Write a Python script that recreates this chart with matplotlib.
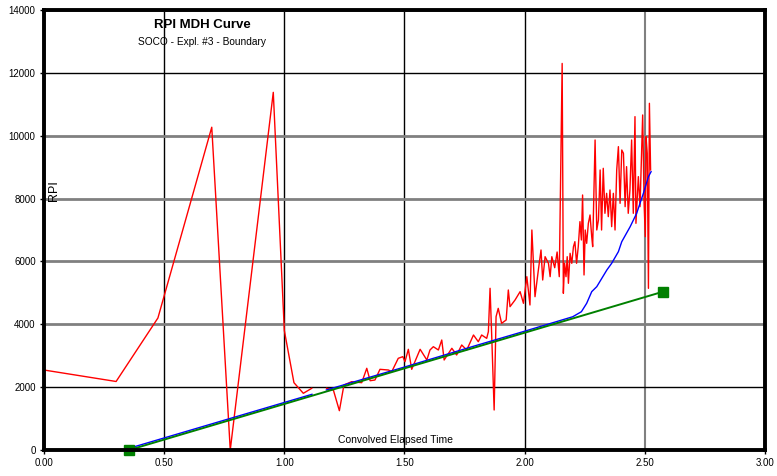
import numpy as np
import matplotlib
matplotlib.use("Agg")
import matplotlib.pyplot as plt

plt.rcParams['font.family'] = ['Liberation Sans', 'DejaVu Sans']

nan = np.nan

# RPI curve (red)
rpi_x = [0.0, 0.30, 0.474, 0.698, 0.775, 0.954, 1.0, 1.04, 1.079, 1.114, nan,
         1.176, 1.204, 1.229, 1.248, 1.28, 1.322, 1.343, 1.357, 1.377, 1.398, 1.433,
         1.447, 1.474, 1.493, 1.502, 1.516, 1.53, 1.565, 1.593, 1.606, 1.62, 1.641,
         1.655, 1.665, 1.697, 1.717, 1.738, 1.759, 1.787, 1.807, 1.821, 1.842, 1.849,
         1.856, 1.863, 1.873, 1.881, 1.89, 1.904, 1.923, 1.932, 1.939, 1.96, 1.981,
         1.995, 2.009, 2.022, 2.03, 2.043, 2.057, 2.068, 2.075, 2.085, 2.099, 2.106,
         2.113, 2.125, 2.135, 2.144, 2.156, 2.161, 2.166, 2.172, 2.177, 2.182, 2.189,
         2.196, 2.203, 2.209, 2.216, 2.223, 2.23, 2.236, 2.241, 2.247, 2.252, 2.258,
         2.265, 2.272, 2.279, 2.283, 2.293, 2.3, 2.307, 2.314, 2.32, 2.327, 2.334,
         2.341, 2.348, 2.355, 2.362, 2.369, 2.376, 2.383, 2.39, 2.397, 2.404, 2.411,
         2.418, 2.424, 2.431, 2.438, 2.445, 2.452, 2.459, 2.463, 2.473, 2.48, 2.487,
         2.491, 2.497, 2.502, 2.505, 2.51, 2.515, 2.519, 2.524]
rpi_y = [2545, 2180, 4200, 10270, 0, 11380, 3800, 2142, 1804, 1963, nan,
         1963, 1909, 1251, 2068, 2173, 2142, 2600, 2205, 2227, 2567, 2545,
         2492, 2917, 2970, 2810, 3204, 2567, 3204, 2864, 3182, 3287, 3182,
         3500, 2864, 3236, 3023, 3341, 3182, 3659, 3446, 3659, 3553, 3765,
         5145, 3606, 1273, 4242, 4507, 4031, 4137, 5091, 4560, 4773, 5038,
         4667, 5515, 4614, 7000, 4878, 5728, 6364, 5409, 6151, 5940, 5515,
         6151, 5800, 6300, 5515, 12300, 4986, 5940, 5515, 6151, 5304, 6258,
         5940, 6470, 6629, 5940, 6470, 7266, 6682, 8114, 5569, 7000, 6576,
         7213, 7478, 6788, 6470, 9864, 7000, 7319, 8910, 7000, 8963, 7531,
         8167, 7425, 8273, 7107, 8167, 7000, 8910, 9652, 7849, 9546, 9440,
         7743, 9016, 7531, 8273, 9864, 7531, 10607, 7213, 8698, 7743, 9546,
         10660, 7849, 6788, 9970, 9440, 5144, 11031, 8910]

# derivative-like curve (blue)
blue_x = [0.0, 0.33, 0.6, 1.115, nan, 1.175, 1.5, 1.8, 2.0, 2.2, 2.236, 2.258,
          2.279, 2.3, 2.342, 2.362, 2.39, 2.404, 2.439, 2.466, 2.494, 2.515, 2.526]
blue_y = [0, 0, 610, 1772, nan, 1910, 2640, 3330, 3780, 4240, 4400, 4667,
          5038, 5197, 5728, 5940, 6311, 6628, 7106, 7531, 8168, 8697, 8856]

# straight-line fit (green)
fit_x = [0.354, 2.577]
fit_y = [0, 5040]

xticks = [0.0, 0.5, 1.0, 1.5, 2.0, 2.5, 3.0]
yticks = [0, 2000, 4000, 6000, 8000, 10000, 12000, 14000]

fig = plt.figure(figsize=(7.77, 4.76), dpi=100)
ax = fig.add_axes([44 / 777, 26 / 476, 721 / 777, 440 / 476])

ax.plot(rpi_x, rpi_y, color='#ff0000', lw=1.0, zorder=3)
ax.plot(blue_x, blue_y, color='#0000ff', lw=1.0, zorder=4)
ax.plot(fit_x, fit_y, color='#008000', lw=1.4, marker='s', markersize=7,
        markeredgecolor='#008000', markerfacecolor='#008000', zorder=5, clip_on=False)

ax.set_xlim(0, 3.0)
ax.set_ylim(0, 14000)
ax.set_xticks(xticks)
ax.set_yticks(yticks)
ax.set_xticklabels(['%.2f' % v for v in xticks], fontsize=7)
ax.set_yticklabels([str(v) for v in yticks], fontsize=7)
ax.tick_params(length=3, width=1, pad=3)

ax.grid(True, zorder=1)
for i, gl in enumerate(ax.get_xgridlines()):
    if xticks[i] == 2.5:
        gl.set_color('#808080'); gl.set_linewidth(1.5)
    else:
        gl.set_color('black'); gl.set_linewidth(1.0)
for i, gl in enumerate(ax.get_ygridlines()):
    if yticks[i] in (2000, 12000):
        gl.set_color('black'); gl.set_linewidth(1.0)
    else:
        gl.set_color('#808080'); gl.set_linewidth(2.0)

for s in ax.spines.values():
    s.set_linewidth(2.8)
    s.set_color('black')
    s.set_zorder(6)

ax.text(0.219, 0.965, 'RPI MDH Curve', transform=ax.transAxes, ha='center',
        va='center', fontsize=9.5, fontweight='bold')
ax.text(0.219, 0.928, 'SOCO - Expl. #3 - Boundary', transform=ax.transAxes,
        ha='center', va='center', fontsize=7.25)
ax.text(0.014, 0.59, 'RPI', transform=ax.transAxes, rotation=90, ha='center',
        va='center', fontsize=9)
ax.text(0.487, 0.023, 'Convolved Elapsed Time', transform=ax.transAxes,
        ha='center', va='center', fontsize=7.5)

fig.savefig('out.png', dpi=100)
